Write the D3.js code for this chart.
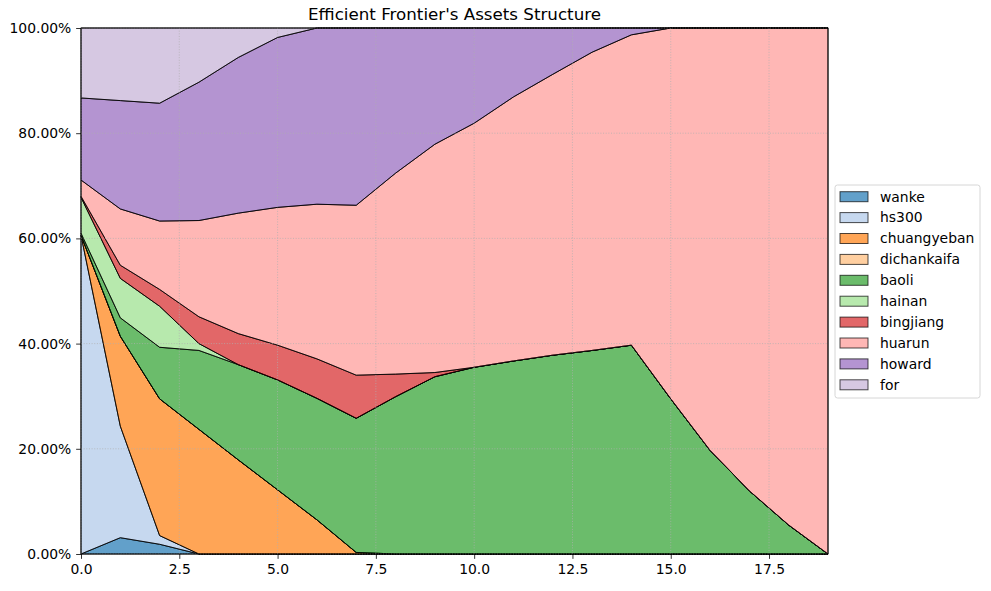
<!DOCTYPE html>
<html><head><meta charset="utf-8">
<script src="https://cdn.jsdelivr.net/npm/d3@7"></script>
<style>body{margin:0;background:#fff}svg{font-family:"DejaVu Sans",sans-serif}</style>
</head><body>
<svg id="c" width="991" height="591"></svg>
<script>
const xs = [0,1,2,3,4,5,6,7,8,9,10,11,12,13,14,15,16,17,18,19];
const names = ["wanke","hs300","chuangyeban","dichankaifa","baoli","hainan","bingjiang","huarun","howard","for"];
const colors = ["#1f77b4","#aec7e8","#ff7f0e","#ffbb78","#2ca02c","#98df8a","#d62728","#ff9896","#9467bd","#c5b0d5"];
const wanke       = [0,3.1,1.85,0,0,0,0,0,0,0,0,0,0,0,0,0,0,0,0,0];
const hs300       = [60.6,21.2,1.65,0,0,0,0,0,0,0,0,0,0,0,0,0,0,0,0,0];
const chuangyeban = [0,17.1,26.0,23.7,17.9,12.2,6.5,0.3,0,0,0,0,0,0,0,0,0,0,0,0];
const dichankaifa = [0,0,0,0,0,0,0,0,0,0,0,0,0,0,0,0,0,0,0,0];
const baoli       = [0.4,3.5,9.8,15.0,18.1,20.9,23.1,25.5,29.9,33.7,35.5,36.7,37.8,38.7,39.7,29.5,19.7,12.0,5.5,0];
const hainan      = [6.8,7.5,7.8,1.3,0,0,0,0,0,0,0,0,0,0,0,0,0,0,0,0];
const bingjiang   = [0.2,2.5,3.2,5.1,5.9,6.6,7.5,8.2,4.3,0.8,0,0,0,0,0,0,0,0,0,0];
const huarun      = [3.1,10.7,13.0,18.3,22.9,26.2,29.4,32.3,38.2,43.4,46.4,50.2,53.4,56.7,59.0,70.5,80.3,88.0,94.5,100];
const howard      = [15.6,20.6,22.4,26.3,29.6,32.3,33.5,33.7,27.6,22.1,18.1,13.1,8.8,4.6,1.3,0,0,0,0,0];
const forS        = [13.3,13.8,14.3,10.3,5.6,1.8,0,0,0,0,0,0,0,0,0,0,0,0,0,0];
const xTicks = [0,2.5,5,7.5,10,12.5,15,17.5];
const yTicks = [0,0.2,0.4,0.6,0.8,1.0];

const seriesVals = [wanke,hs300,chuangyeban,dichankaifa,baoli,hainan,bingjiang,huarun,howard,forS];
const table = xs.map((x,i)=>{const o={x}; names.forEach((n,k)=>o[n]=seriesVals[k][i]/100); return o;});

const svg = d3.select("#c");
const L=81,R=828,T=28,B=554;
const x = d3.scaleLinear().domain([0,19]).range([L,R]);
const y = d3.scaleLinear().domain([0,1]).range([B,T]);

const stack = d3.stack().keys(names)(table);
const area = d3.area().x(d=>x(d.data.x)).y0(d=>y(d[0])).y1(d=>y(d[1]));
svg.append("g").selectAll("path").data(stack).join("path")
  .attr("d",d=>area(d)+"")
  .attr("fill",(d,i)=>colors[i]).attr("fill-opacity",0.7)
  .attr("stroke","#000").attr("stroke-opacity",0.85).attr("stroke-width",1).attr("stroke-linejoin","miter");

// grid
const g2 = svg.append("g");
g2.selectAll(".gx").data(xTicks).join("line").attr("x1",d=>x(d)).attr("x2",d=>x(d)).attr("y1",T).attr("y2",B)
  .attr("stroke","#b0b0b0").attr("stroke-opacity",0.9).attr("stroke-width",0.8).attr("stroke-dasharray","1,1.65");
g2.selectAll(".gy").data(yTicks).join("line").attr("y1",d=>y(d)).attr("y2",d=>y(d)).attr("x1",L).attr("x2",R)
  .attr("stroke","#b0b0b0").attr("stroke-opacity",0.9).attr("stroke-width",0.8).attr("stroke-dasharray","1,1.65");

// axes
const xa = svg.append("g").attr("transform",`translate(0,${B})`)
  .call(d3.axisBottom(x).tickValues(xTicks).tickFormat(d3.format(".1f")).tickSizeOuter(0).tickSize(4.86).tickPadding(4.86));
const ya = svg.append("g").attr("transform",`translate(${L},0)`)
  .call(d3.axisLeft(y).tickValues(yTicks).tickFormat(d=>(d*100).toFixed(2)+"%").tickSizeOuter(0).tickSize(4.86).tickPadding(4.86));
[xa,ya].forEach(a=>{a.select(".domain").remove();a.selectAll("text").attr("font-size","13.9px").attr("fill","#000").attr("font-family","DejaVu Sans");a.selectAll("line").attr("stroke","#000").attr("stroke-width",0.8);});
svg.append("rect").attr("x",L).attr("y",T).attr("width",R-L).attr("height",B-T).attr("fill","none").attr("stroke","#000").attr("stroke-width",0.8);

svg.append("text").attr("x",(L+R)/2).attr("y",T-8).attr("text-anchor","middle").attr("font-size","16.7px").attr("fill","#000").text("Efficient Frontier's Assets Structure");

// legend
const lg = svg.append("g");
lg.append("rect").attr("x",835).attr("y",185).attr("width",145).attr("height",213).attr("rx",2.5)
  .attr("fill","#fff").attr("fill-opacity",0.8).attr("stroke","#cccccc").attr("stroke-width",0.8);
const items = lg.selectAll("g").data(names).join("g").attr("transform",(d,i)=>`translate(0,${196.7+i*20.9})`);
items.append("rect").attr("x",840).attr("y",-5).attr("width",28).attr("height",10)
  .attr("fill",(d,i)=>colors[i]).attr("fill-opacity",0.7).attr("stroke","#000").attr("stroke-opacity",0.7).attr("stroke-width",1);
items.append("text").attr("x",880).attr("y",0).attr("dy","0.35em").attr("font-size","13.9px").attr("fill","#000").text(d=>d);
</script>
</body></html>
